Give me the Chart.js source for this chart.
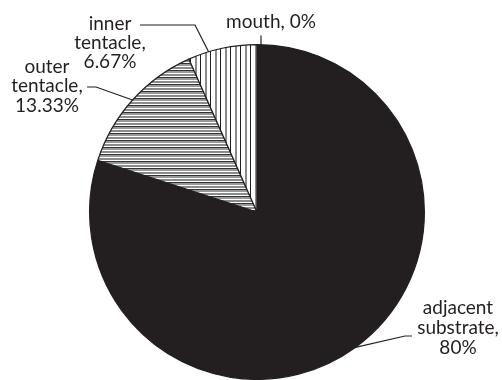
<!DOCTYPE html>
<html>
<head>
<meta charset="utf-8">
<script src="https://cdn.jsdelivr.net/npm/chart.js@4/dist/chart.umd.min.js"></script>
<style>
  html, body { margin: 0; padding: 0; background: #fff; }
  #wrap { width: 502px; height: 380px; position: relative; }
</style>
</head>
<body>
<div id="wrap"><canvas id="pieChart"></canvas></div>
<script>
const categories = ['adjacent substrate', 'outer tentacle', 'inner tentacle', 'mouth'];
const percentValues = [80, 13.33, 6.67, 0];
const labelLines = [
    ['adjacent', 'substrate,', '80%'],
    ['outer', 'tentacle,', '13.33%'],
    ['inner', 'tentacle,', '6.67%'],
    ['mouth, 0%']
];

const INK = '#231f20';

// hatch fills, like the printed original
function makePattern(w, h, drawFn) {
    const c = document.createElement('canvas');
    c.width = w;
    c.height = h;
    const g = c.getContext('2d');
    g.fillStyle = '#fff';
    g.fillRect(0, 0, w, h);
    drawFn(g);
    return c.getContext('2d').createPattern(c, 'repeat');
}

const horizStripes = makePattern(4, 7, g => {
    g.fillStyle = '#333';    g.fillRect(0, 0, 4, 1);
    g.fillStyle = '#999';    g.fillRect(0, 1, 4, 2);
    g.fillStyle = '#8a8a8a'; g.fillRect(0, 4, 4, 2);
});

const vertStripes = makePattern(10, 4, g => {
    g.fillStyle = INK;   g.fillRect(0, 0, 1, 4);
    g.fillStyle = '#8a8a8a'; g.fillRect(5, 0, 2, 4);
});

// label layout: line centres and leader elbows, in canvas px
const labelStyle = [
    { cx: 458, ys: [308, 328, 348], from: [412, 336], elbow: [405, 336], frac: 0.5 },
    { cx: 47,  ys: [67, 86, 106],   from: [87, 87],   elbow: [96, 87],   frac: 0.5 },
    { cx: 110, ys: [24, 43, 62],    from: [140, 25],  elbow: [195, 25],  frac: 0.3 },
    { cx: 271, ys: [22],            from: null,       elbow: null,       frac: 0 }
];

const labelPlugin = {
    id: 'pieLabels',
    afterDraw(chart) {
        const ctx = chart.ctx;
        const arcs = chart.getDatasetMeta(0).data;
        ctx.save();
        ctx.fillStyle = INK;
        ctx.strokeStyle = INK;
        ctx.lineWidth = 1.2;
        ctx.font = '19px Lato';
        ctx.textAlign = 'center';
        ctx.textBaseline = 'middle';
        arcs.forEach((arc, i) => {
            const st = labelStyle[i];
            const a = arc.startAngle + (arc.endAngle - arc.startAngle) * st.frac;
            const ax = arc.x + Math.cos(a) * arc.outerRadius;
            const ay = arc.y + Math.sin(a) * arc.outerRadius;
            ctx.beginPath();
            if (st.from) {
                ctx.moveTo(st.from[0], st.from[1]);
                ctx.lineTo(st.elbow[0], st.elbow[1]);
                ctx.lineTo(ax, ay);
            } else {
                ctx.moveTo(ax + 4, ay - 9);
                ctx.lineTo(ax + 4, ay + 1);
            }
            ctx.stroke();
            labelLines[i].forEach((t, k) => ctx.fillText(t, st.cx, st.ys[k]));
        });
        ctx.restore();
    }
};

function initializeChart() {
    const canvas = document.getElementById('pieChart');
    canvas.width = 502;
    canvas.height = 380;
    new Chart(canvas.getContext('2d'), {
        type: 'pie',
        data: {
            labels: categories,
            datasets: [{
                data: percentValues,
                backgroundColor: [INK, horizStripes, vertStripes, '#fff'],
                borderColor: INK,
                borderWidth: 1.2
            }]
        },
        options: {
            responsive: false,
            animation: false,
            layout: { padding: { left: 89, right: 77, top: 44, bottom: 0 } },
            plugins: {
                legend: { display: false },
                tooltip: { enabled: false }
            }
        },
        plugins: [labelPlugin]
    });
}

document.fonts.load('19px Lato').then(initializeChart, initializeChart);
</script>
</body>
</html>
